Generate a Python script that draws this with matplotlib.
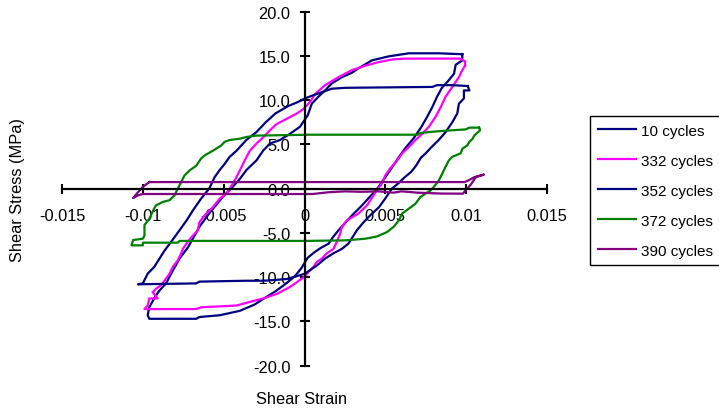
import matplotlib
matplotlib.use("Agg")
import matplotlib.pyplot as plt

plt.rcParams['font.family'] = ['Liberation Sans', 'DejaVu Sans']

# hysteresis loops (strain, stress in MPa)
strain_10 = [9.76e-3, 9.76e-3, 9.35e-3, 9.25e-3, 8.9e-3, 8.5e-3, 8.2e-3, 7.9e-3, 7.55e-3, 7.2e-3,
             6.75e-3, 6.2e-3, 5.85e-3, 5.45e-3, 5.0e-3, 4.5e-3, 4.0e-3, 3.5e-3, 3.0e-3, 2.5e-3,
             2.1e-3, 1.75e-3, 1.5e-3, 1.0e-3, 0.6e-3, 0.2e-3, -0.2e-3, -0.6e-3, -1.2e-3, -1.8e-3,
             -2.5e-3, -3.1e-3, -4.0e-3, -5.25e-3, -6.5e-3, -6.7e-3, -9.6e-3, -9.7e-3, -9.6e-3, -9.3e-3,
             -8.97e-3, -8.56e-3, -8.25e-3, -7.73e-3, -7.2e-3, -6.8e-3, -6.5e-3, -5.9e-3, -5.04e-3, -4.5e-3,
             -4.0e-3, -3.6e-3, -2.97e-3, -2.56e-3, -2.14e-3, -1.52e-3, -0.9e-3, -0.28e-3, 0.2e-3, 0.45e-3,
             0.86e-3, 1.27e-3, 1.69e-3, 2.31e-3, 2.93e-3, 3.34e-3, 4.17e-3, 5.2e-3, 6.45e-3, 8.31e-3,
             9.66e-3, 9.76e-3]
stress_10 = [15.2, 14.5, 14.0, 13.0, 12.2, 11.4, 10.4, 9.2, 8.0, 6.9,
             5.7, 4.5, 3.6, 2.5, 1.3, 0.0, -1.0, -2.0, -2.9, -3.9,
             -4.7, -5.5, -6.2, -6.7, -7.2, -7.8, -9.0, -9.9, -10.8, -11.6,
             -12.4, -13.1, -13.8, -14.3, -14.5, -14.7, -14.7, -14.3, -13.4, -12.4,
             -11.5, -10.7, -9.6, -7.9, -6.6, -5.3, -4.3, -2.8, -0.9, 0.1,
             1.1, 2.1, 3.2, 4.3, 5.1, 5.5, 6.2, 7.0, 8.3, 9.6,
             10.4, 11.1, 11.9, 12.6, 13.1, 13.6, 14.5, 14.95, 15.3, 15.3,
             15.2, 15.2]

strain_332 = [9.93e-3, 9.76e-3, 9.55e-3, 9.14e-3, 8.73e-3, 8.42e-3, 8.1e-3, 7.69e-3, 7.28e-3, 6.86e-3,
              6.45e-3, 6.04e-3, 5.73e-3, 5.3e-3, 5.0e-3, 4.75e-3, 4.45e-3, 4.27e-3, 3.86e-3, 3.34e-3,
              2.6e-3, 2.3e-3, 2.2e-3, 2.0e-3, 1.79e-3, 1.38e-3, 1.07e-3, 0.75e-3, 0.55e-3, 0.24e-3,
              0.03e-3, -0.5e-3, -0.9e-3, -1.73e-3, -2.56e-3, -3.4e-3, -4.2e-3, -6.4e-3, -6.7e-3, -9.9e-3,
              -9.7e-3, -9.6e-3, -9.08e-3, -9.4e-3, -9.18e-3, -8.87e-3, -8.66e-3, -8.35e-3, -8.15e-3, -7.84e-3,
              -7.63e-3, -7.53e-3, -7.22e-3, -7.0e-3, -6.6e-3, -6.5e-3, -6.18e-3, -5.66e-3, -5.25e-3, -4.83e-3,
              -4.63e-3, -4.32e-3, -4.0e-3, -3.7e-3, -3.38e-3, -2.97e-3, -2.56e-3, -2.14e-3, -1.73e-3, -1.1e-3,
              -0.48e-3, -0.07e-3, 0.34e-3, 0.65e-3, 1.27e-3, 2.1e-3, 2.93e-3, 3.76e-3, 4.58e-3, 5.42e-3,
              6.24e-3, 9.14e-3, 9.6e-3, 9.93e-3, 9.93e-3]
stress_332 = [13.9, 13.4, 12.6, 11.5, 10.4, 9.2, 8.1, 7.0, 6.2, 5.5,
              4.7, 4.0, 3.2, 2.3, 1.5, 0.5, -0.2, -0.75, -1.9, -2.8,
              -3.6, -4.4, -5.1, -6.0, -6.8, -7.3, -7.9, -8.3, -8.85, -9.4,
              -9.9, -10.6, -11.1, -11.9, -12.4, -12.8, -13.2, -13.4, -13.6, -13.6,
              -13.2, -12.4, -12.4, -11.7, -11.3, -10.9, -10.4, -9.6, -8.85, -8.1,
              -7.3, -6.8, -6.0, -5.5, -4.7, -3.8, -3.0, -2.07, -1.13, -0.56,
              0.0, 0.94, 2.07, 3.2, 4.3, 5.1, 5.8, 6.6, 7.3, 7.9,
              8.5, 9.0, 9.8, 10.7, 11.7, 12.6, 13.4, 13.9, 14.3, 14.6,
              14.7, 14.7, 14.7, 14.4, 13.9]

strain_352 = [10.1e-3, 10.2e-3, 9.86e-3, 9.86e-3, 9.55e-3, 9.45e-3, 9.14e-3, 8.73e-3, 8.3e-3, 7.8e-3,
              7.5e-3, 7.2e-3, 6.9e-3, 6.6e-3, 6.2e-3, 5.8e-3, 5.4e-3, 5.0e-3, 4.6e-3, 4.07e-3,
              3.65e-3, 3.24e-3, 2.93e-3, 2.72e-3, 2.31e-3, 1.79e-3, 1.27e-3, 0.75e-3, 0.34e-3, 0.03e-3,
              -0.6e-3, -1.1e-3, -1.73e-3, -2.56e-3, -3.6e-3, -6.5e-3, -6.7e-3, -10.3e-3, -10.0e-3, -9.7e-3,
              -9.3e-3, -8.97e-3, -8.66e-3, -8.25e-3, -7.73e-3, -7.3e-3, -6.9e-3, -6.4e-3, -5.9e-3, -5.56e-3,
              -5.25e-3, -4.94e-3, -4.63e-3, -4.2e-3, -3.6e-3, -2.97e-3, -2.4e-3, -1.8e-3, -1.05e-3, -0.4e-3,
              0.03e-3, 0.45e-3, 1.07e-3, 1.69e-3, 2.5e-3, 7.9e-3, 8.2e-3, 9.14e-3, 10.1e-3]
stress_352 = [11.6, 11.1, 11.1, 10.2, 9.6, 8.5, 7.5, 6.4, 5.5, 4.6,
              4.0, 3.5, 2.6, 1.9, 1.3, 0.6, 0.0, -1.1, -2.1, -3.0,
              -3.8, -4.7, -5.6, -6.2, -6.8, -7.3, -7.9, -8.7, -9.2, -9.6,
              -9.95, -10.2, -10.3, -10.4, -10.4, -10.5, -10.7, -10.8, -10.7, -9.6,
              -8.85, -7.9, -7.0, -6.0, -4.7, -3.6, -2.45, -1.13, 0.0, 1.3,
              2.1, 2.8, 3.6, 4.3, 5.5, 6.4, 7.5, 8.5, 9.3, 9.8,
              10.2, 10.5, 10.9, 11.3, 11.4, 11.5, 11.7, 11.7, 11.6]

strain_372 = [10.8e-3, 10.86e-3, 10.5e-3, 10.4e-3, 10.2e-3, 10.07e-3, 9.76e-3, 9.66e-3, 9.14e-3, 8.93e-3,
              8.73e-3, 8.52e-3, 8.3e-3, 8.0e-3, 7.8e-3, 7.48e-3, 7.17e-3, 6.86e-3, 6.45e-3, 6.04e-3,
              5.83e-3, 5.52e-3, 5.1e-3, 4.48e-3, 3.76e-3, 2.5e-3, 0.0, -3.5e-3, -7.73e-3, -7.84e-3,
              -10.0e-3, -10.0e-3, -10.7e-3, -10.6e-3, -10.0e-3, -9.9e-3, -9.9e-3, -9.6e-3, -9.4e-3, -9.2e-3,
              -8.77e-3, -8.35e-3, -8.04e-3, -7.84e-3, -7.63e-3, -7.42e-3, -7.1e-3, -6.7e-3, -6.4e-3, -6.18e-3,
              -5.66e-3, -5.14e-3, -4.94e-3, -4.63e-3, -4.0e-3, -3.6e-3, -2.97e-3, 0.34e-3, 7.0e-3, 7.17e-3,
              8.31e-3, 9.97e-3, 10.2e-3, 10.8e-3]
stress_372 = [6.9, 6.6, 6.0, 5.65, 5.3, 4.9, 4.5, 4.0, 3.6, 3.2,
              2.5, 1.7, 0.9, 0.2, -0.2, -0.56, -0.94, -1.7, -2.26, -2.8,
              -3.6, -4.3, -4.9, -5.4, -5.65, -5.84, -5.9, -5.9, -5.9, -6.1,
              -6.1, -6.4, -6.4, -5.8, -5.65, -5.3, -4.1, -3.4, -2.6, -1.9,
              -1.5, -1.3, -0.75, 0.0, 0.75, 1.5, 2.07, 2.6, 3.4, 3.76,
              4.3, 4.9, 5.3, 5.5, 5.65, 5.84, 6.0, 6.1, 6.1, 6.3,
              6.5, 6.7, 6.9, 6.9]

strain_390 = [-9.6e-3, 9.9e-3, 10.1e-3, 10.5e-3, 11.1e-3, 10.6e-3, 10.3e-3, 10.0e-3, 9.8e-3, 8.5e-3,
              7.0e-3, 6.0e-3, 5.5e-3, 4.6e-3, 3.5e-3, 2.5e-3, 1.5e-3, 0.5e-3, -1.0e-3, -9.0e-3,
              -10.0e-3, -10.3e-3, -10.6e-3, -10.3e-3, -10.0e-3, -9.6e-3]
stress_390 = [0.75, 0.75, 0.9, 1.3, 1.6, 1.3, 0.5, -0.1, -0.56, -0.55,
              -0.45, -0.3, -0.45, -0.3, -0.35, -0.3, -0.4, -0.6, -0.6, -0.6,
              -0.6, -0.75, -1.05, -0.4, 0.2, 0.75]

series_labels = ['10 cycles', '332 cycles', '352 cycles', '372 cycles', '390 cycles']
series_colors = ['#000080', '#FF00FF', '#000080', '#008000', '#800080']

x_ticks = [-0.015, -0.01, -0.005, 0, 0.005, 0.01, 0.015]
x_tick_labels = ['-0.015', '-0.01', '-0.005', '0', '0.005', '0.01', '0.015']
y_ticks = [-20, -15, -10, -5, 0, 5, 10, 15, 20]
y_tick_labels = ['-20.0', '-15.0', '-10.0', '-5.0', '0.0', '5.0', '10.0', '15.0', '20.0']

fig = plt.figure(figsize=(7.19, 4.14), dpi=100)
ax = fig.add_axes([62 / 719, 47.3 / 414, 485 / 719, 354 / 414])
ax.set_axisbelow(True)

loops = [(strain_10, stress_10), (strain_332, stress_332), (strain_352, stress_352),
         (strain_372, stress_372), (strain_390, stress_390)]
for (xs, ys), lab, col in zip(loops, series_labels, series_colors):
    ax.plot(xs, ys, color=col, lw=1.6, label=lab, solid_joinstyle='round')

ax.set_xlim(-0.015, 0.015)
ax.set_ylim(-20, 20)

# axes crossing at the origin, Excel style
ax.spines['left'].set_position(('data', 0))
ax.spines['bottom'].set_position(('data', 0))
ax.spines['top'].set_visible(False)
ax.spines['right'].set_visible(False)
for s in ('left', 'bottom'):
    ax.spines[s].set_linewidth(1.6)

ax.set_xticks(x_ticks)
ax.set_xticklabels(x_tick_labels)
ax.set_yticks(y_ticks)
ax.set_yticklabels(y_tick_labels)
ax.tick_params(direction='inout', length=7.2, width=1.5, labelsize=11.8, colors='black')
ax.tick_params(axis='x', pad=10.5)
ax.tick_params(axis='y', pad=6.5)

fig.text(302 / 719, 1 - 400 / 414, 'Shear Strain', ha='center', va='center', fontsize=11.8)
fig.text(18 / 719, 1 - 190 / 414, 'Shear Stress (MPa)', ha='center', va='center',
         rotation=90, fontsize=11.8)

leg = fig.legend(loc='upper left', bbox_to_anchor=(590 / 719, 1 - 117 / 414),
                 fontsize=11, frameon=True, fancybox=False, framealpha=1,
                 edgecolor='black', borderpad=0.5, labelspacing=1.05,
                 handlelength=2.5, handletextpad=0.33, borderaxespad=0)
leg.get_frame().set_linewidth(1.0)

fig.savefig('out.png', dpi=100)
